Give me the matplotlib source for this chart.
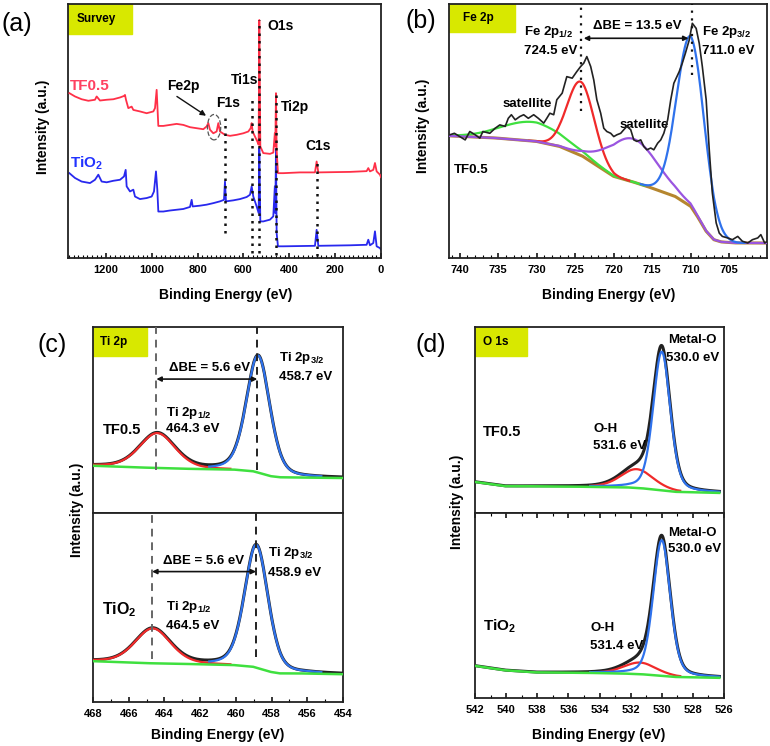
import numpy as np
import matplotlib.pyplot as plt
from matplotlib.patches import Ellipse, Rectangle
from matplotlib.ticker import MultipleLocator

plt.rcParams['font.family'] = ['Liberation Sans', 'DejaVu Sans']
plt.rcParams['font.weight'] = 'bold'
plt.rcParams['mathtext.fontset'] = 'custom'
plt.rcParams['mathtext.rm'] = 'Liberation Sans:bold'
plt.rcParams['mathtext.bf'] = 'Liberation Sans:bold'
plt.rcParams['mathtext.default'] = 'bf'

# ---------------- (a) survey spectra (binding energy eV, intensity a.u.)
sv_tf_e = [1359, 1334.5, 1305.4, 1276.3, 1247.3, 1240.0, 1225.5, 1196.4, 1167.3, 1138.3, 1120.8, 1116.5,
           1112.1, 1102.0, 1087.4, 1080.1, 1051.1, 1022.0, 992.9, 985.6, 978.4, 971.1, 949.3, 920.2,
           891.2, 862.1, 833.0, 803.9, 774.9, 760.3, 753.1, 745.8, 731.3, 716.8, 709.5, 702.2, 680.4,
           658.6, 629.5, 600.5, 578.7, 568.5, 564.1, 559.8, 549.6, 539.5, 533.6, 530.7, 526.3, 513.3,
           484.2, 469.7, 463.0, 461.0, 458.0, 455.1, 449.3, 426.1, 353.4, 288.0, 280.7, 273.4, 208.0,
           135.4, 62.7, 55.4, 48.1, 33.6, 26.3, 19.0, 4.5, 0]
sv_tf_i = [64.9, 63.6, 62.5, 61.9, 62.3, 63.6, 62.0, 62.3, 62.5, 63.2, 63.8, 64.2,
           62.3, 59.0, 59.6, 58.3, 57.7, 57.0, 57.7, 59.0, 66.2, 52.0, 52.0, 52.4,
           52.8, 52.4, 51.5, 51.1, 50.7, 51.8, 53.1, 50.5, 49.1, 49.8, 53.1, 49.8, 48.5,
           48.1, 48.5, 49.1, 49.8, 51.1, 53.1, 49.8, 47.8, 45.9, 44.6, 93.7, 43.9, 41.3,
           41.0, 41.5, 49.1, 43.9, 64.9, 42.6, 33.4, 33.4, 33.7, 33.7, 38.0, 33.7, 33.8,
           33.9, 34.2, 35.4, 34.1, 34.7, 37.4, 34.1, 32.8, 31.8]
sv_ti_e = [1359, 1334.5, 1305.4, 1269.1, 1247.3, 1232.7, 1218.2, 1196.4, 1167.3, 1138.3, 1120.8, 1113.5,
           1109.2, 1094.6, 1080.1, 1072.8, 1051.1, 1022.0, 1000.2, 990.0, 981.3, 975.5, 971.1, 949.3,
           920.2, 891.2, 862.1, 833.0, 825.7, 821.4, 789.4, 760.3, 731.3, 702.2, 684.8, 680.4, 676.1,
           644.1, 615.0, 585.9, 571.4, 564.1, 556.9, 542.3, 533.6, 530.7, 526.3, 513.3, 484.2, 469.7,
           463.0, 461.0, 458.0, 455.1, 449.3, 426.1, 288.0, 280.7, 273.4, 135.4, 62.7, 55.4, 48.1,
           33.6, 26.3, 19.0, 4.5, 0]
sv_ti_i = [33.4, 31.5, 30.1, 29.5, 30.8, 32.8, 30.1, 29.8, 30.4, 30.8, 32.1, 34.7,
           28.2, 26.2, 26.9, 24.2, 23.2, 23.6, 24.2, 26.2, 34.1, 26.9, 18.3, 18.3,
           18.7, 19.0, 19.3, 20.1, 22.9, 20.3, 20.6, 21.0, 21.6, 22.3, 22.9, 30.1, 22.3,
           22.7, 23.2, 24.0, 24.9, 28.2, 24.2, 20.3, 17.7, 43.3, 14.4, 14.4, 15.1, 16.4,
           28.2, 17.7, 42.6, 9.8, 4.6, 4.6, 4.8, 11.1, 4.8, 5.0, 5.2, 7.2, 5.0,
           5.9, 10.5, 4.6, 3.9, 3.3]
sv_line_e = [682, 564, 530, 456, 278]
sv_line_top = [56.4, 63.6, 93.7, 65.5, 37.4]
sv_line_bot = [9.8, 2.0, 2.0, 1.3, 0.7]

# ---------------- (b) Fe 2p, TF0.5
fe_e = [741.3, 740.7, 740.0, 739.3, 738.7, 738.0, 737.4, 737.0, 736.1, 735.4, 734.8, 734.1, 733.7, 733.3,
        732.8, 732.2, 731.7, 731.1, 730.4, 729.8, 729.1, 728.7, 728.3, 727.8, 727.4, 726.7, 726.1, 725.4,
        724.8, 724.3, 723.9, 723.5, 723.0, 722.6, 722.2, 721.7, 721.3, 720.9, 720.4, 720.0, 719.6, 719.1,
        718.7, 718.3, 717.8, 717.4, 717.0, 716.5, 716.1, 715.7, 715.2, 714.8, 714.3, 713.9, 713.5, 713.0,
        712.6, 712.2, 711.5, 711.1, 710.7, 710.2, 709.8, 709.3, 708.9, 708.5, 708.0, 707.6, 707.2, 706.7,
        706.3, 705.9, 705.2, 704.6, 703.9, 703.3, 702.6, 702.0, 701.3, 700.9, 700.4, 700.0]
fe_i = [48.5, 49.1, 47.8, 46.5, 49.8, 48.5, 47.2, 49.8, 49.1, 51.1, 52.4, 51.8, 55.0, 56.4,
        54.4, 55.7, 56.4, 55.0, 56.4, 55.0, 53.1, 55.0, 57.0, 56.4, 62.3, 64.9, 71.4, 70.8,
        73.4, 75.4, 76.7, 79.3, 75.4, 70.1, 62.3, 57.0, 51.1, 49.8, 49.1, 47.8, 48.5, 49.1,
        50.5, 51.8, 50.5, 46.5, 45.9, 46.5, 43.9, 42.6, 43.3, 42.6, 45.2, 46.5, 49.1, 54.4,
        62.3, 68.8, 73.4, 76.7, 80.6, 85.8, 92.4, 90.4, 84.5, 75.4, 62.3, 42.6, 25.6, 13.8,
        9.8, 8.5, 7.9, 7.2, 8.5, 6.6, 5.9, 7.2, 7.9, 9.2, 5.9, 6.6]
fe_bg_e = [741.4, 735.0, 730.0, 727.0, 725.0, 724.0, 722.0, 720.0, 718.5, 717.0, 715.0, 712.0,
           710.0, 709.0, 708.0, 707.0, 706.0, 704.0, 700.0]
fe_bg_i = [48.1, 47.2, 45.9, 43.9, 41.3, 40.0, 36.0, 32.1, 30.8, 29.5, 27.5, 24.2,
           20.3, 15.7, 10.5, 7.2, 6.3, 5.9, 5.9]
# components: green satellite, red 2p1/2, purple satellite, blue 2p3/2
fe_cen = [730.6, 724.3, 717.5, 710.0]
fe_amp = [7.5, 29.0, 17.0, 67.0]
fe_sig = [4.0, 1.75, 3.2, 1.8]
fe_lo = [716.0, 718.0, 700.0, 703.0]
fe_hi = [741.4, 731.0, 741.4, 716.5]

# ---------------- (c) Ti 2p  [TF0.5, TiO2]
ti_bg_e = [468, 464.5, 462, 460, 459, 458.5, 458, 457.5, 456, 454]
ti_bg_tf = [25.4, 24.2, 23.6, 23.3, 22.4, 21.0, 19.7, 19.2, 19.0, 18.8]
ti_bg_ti = [21.6, 20.4, 20.0, 19.5, 18.6, 17.2, 15.8, 15.1, 15.1, 14.7]
ti_cen_tf = [464.4, 458.75]
ti_cen_ti = [464.65, 458.85]
ti_amp_tf = [18.8, 63.0]
ti_amp_ti = [18.5, 65.0]
ti_sig = [1.0, 0.66]

# ---------------- (d) O 1s  [TF0.5, TiO2]
o_bg_e = [542, 540, 538, 534, 532, 531, 530, 529, 526.3]
o_bg_tf = [16.7, 14.4, 14.4, 14.0, 13.7, 13.1, 12.2, 11.3, 10.8]
o_bg_ti = [17.4, 14.9, 13.8, 13.5, 13.1, 12.7, 12.0, 11.3, 10.9]
o_cen_tf = [531.6, 530.0]
o_cen_ti = [531.4, 530.0]
o_amp_tf = [10.1, 74.5]
o_amp_ti = [6.3, 73.3]
o_sig = [1.05, 0.55]

RED, BLUE, GREEN = '#f02a2a', '#2f72ec', '#3fe03f'
PURPLE, BROWN = '#9a55e0', '#b5862f'
BOX = '#d8e800'


def peak(x, c, a, s, eta=0.0):
    g = np.exp(-0.5 * ((x - c) / s) ** 2)
    hw = 1.1774 * s
    l = 1.0 / (1.0 + ((x - c) / hw) ** 2)
    return a * ((1 - eta) * g + eta * l)


def style(ax, xlim, major, minor, labels=True, bottom=True, top=False):
    ax.set_xlim(*xlim)
    ax.set_ylim(0, 100)
    ax.set_yticks([])
    ax.xaxis.set_major_locator(MultipleLocator(major))
    ax.xaxis.set_minor_locator(MultipleLocator(minor))
    ax.tick_params(axis='x', which='both', direction='in', labelsize=8, pad=5,
                   bottom=bottom, top=top, labelbottom=labels)
    ax.tick_params(axis='x', which='major', length=3.5, width=1.1)
    ax.tick_params(axis='x', which='minor', length=2, width=0.8)
    for s in ax.spines.values():
        s.set_linewidth(1.3)
        s.set_color('#222222')


def tag(ax, text, w, h, tx):
    ax.add_patch(Rectangle((0, 1 - h), w, h, transform=ax.transAxes, color=BOX, zorder=1))
    ax.text(tx, 1 - h / 2, text, transform=ax.transAxes, fontsize=8.5, va='center', ha='left', zorder=6)


def fit_panel(ax, bg_e, bg_i, cen, amp, sig, eta, lo, hi, comp_lo, comp_hi):
    x = np.linspace(lo, hi, 900)
    bg = np.interp(x, bg_e[::-1], bg_i[::-1])
    comps = [peak(x, c, a, s, eta) for c, a, s in zip(cen, amp, sig)]
    ax.plot(x, bg + comps[0] + comps[1], color='#222222', lw=2.2, zorder=2)
    for comp, col, a, b in zip(comps, [RED, BLUE], comp_lo, comp_hi):
        m = (x >= a) & (x <= b)
        ax.plot(x[m], (bg + comp)[m], color=col, lw=1.6, zorder=3)
    ax.plot(x, bg, color=GREEN, lw=1.8, zorder=4)


fig = plt.figure(figsize=(7.7, 7.46), dpi=100)
W, H = 770, 746


def box(x0, y0, x1, y1):
    return [x0 / W, 1 - y1 / H, (x1 - x0) / W, (y1 - y0) / H]


ax_a = fig.add_axes(box(68, 4, 381, 258))
ax_b = fig.add_axes(box(449, 4, 767, 258))
ax_c1 = fig.add_axes(box(93, 327, 343, 513))
ax_c2 = fig.add_axes(box(93, 513, 343, 702))
ax_d1 = fig.add_axes(box(475, 327, 724, 513))
ax_d2 = fig.add_axes(box(475, 513, 724, 698))

# ---- (a)
ax_a.plot(sv_tf_e, sv_tf_i, color='#ff3048', lw=1.3, zorder=3)
ax_a.plot(sv_ti_e, sv_ti_i, color='#2828ee', lw=1.3, zorder=2)
for e, t, b in zip(sv_line_e, sv_line_top, sv_line_bot):
    ax_a.plot([e, e], [b, t], color='#111111', ls=(0, (1, 2)), lw=1.8, zorder=4)
ax_a.add_patch(Ellipse((728, 51.5), 58, 10.0, fill=False, ec='#555555', ls='--', lw=0.9, zorder=5))
ax_a.annotate('', xy=(763, 56.0), xytext=(890, 63.6),
              arrowprops=dict(arrowstyle='-|>', color='#111111', lw=1.0, mutation_scale=8,
                              shrinkA=0, shrinkB=0))
ax_a.text(1356, 67.8, 'TF0.5', color='#ff4060', fontsize=11, va='center', ha='left')
ax_a.text(1356, 37.4, 'TiO$_2$', color='#2233ff', fontsize=11, va='center', ha='left')
ax_a.text(862, 67.8, 'Fe2p', fontsize=10, ha='center', va='center')
ax_a.text(666, 60.9, 'F1s', fontsize=10, ha='center', va='center')
ax_a.text(593, 70.1, 'Ti1s', fontsize=10, ha='center', va='center')
ax_a.text(436, 91.3, 'O1s', fontsize=10, ha='center', va='center')
ax_a.text(374, 59.6, 'Ti2p', fontsize=10, ha='center', va='center')
ax_a.text(273, 43.9, 'C1s', fontsize=10, ha='center', va='center')
style(ax_a, (1365, 0), 200, 20)
tag(ax_a, 'Survey', 0.205, 0.12, 0.026)

# ---- (b)
xb = np.linspace(700.0, 741.4, 900)
bgb = np.interp(xb, fe_bg_e[::-1], fe_bg_i[::-1])
ax_b.plot(xb, bgb, color=BROWN, lw=2.2, zorder=2)
for c, a, s, lo, hi, col in zip(fe_cen, fe_amp, fe_sig, fe_lo, fe_hi, [GREEN, RED, PURPLE, BLUE]):
    m = (xb >= lo) & (xb <= hi)
    ax_b.plot(xb[m], (bgb + peak(xb, c, a, s))[m], color=col, lw=1.6, zorder=3)
ax_b.plot(fe_e, fe_i, color='#222222', lw=1.2, zorder=4)
ax_b.plot([724.2, 724.2], [57.7, 100], color='#111111', ls=(0, (1, 2.5)), lw=1.6, zorder=5)
ax_b.plot([709.9, 709.9], [72.0, 100], color='#111111', ls=(0, (1, 2.5)), lw=1.6, zorder=5)
ax_b.annotate('', xy=(710.3, 86.5), xytext=(723.9, 86.5),
              arrowprops=dict(arrowstyle='<|-|>', color='#111111', lw=1.2, mutation_scale=7,
                              shrinkA=0, shrinkB=0))
ax_b.text(717.0, 91.2, '\u0394BE = 13.5 eV', fontsize=9.5, ha='center', va='center')
ax_b.text(731.7, 89.0, 'Fe 2p$_{1/2}$', fontsize=9.5, ha='left', va='center')
ax_b.text(731.7, 81.6, '724.5 eV', fontsize=9.5, ha='left', va='center')
ax_b.text(708.6, 89.0, 'Fe 2p$_{3/2}$', fontsize=9.5, ha='left', va='center')
ax_b.text(708.6, 81.6, '711.0 eV', fontsize=9.5, ha='left', va='center')
ax_b.text(731.3, 60.7, 'satellite', fontsize=9.5, ha='center', va='center')
ax_b.text(716.1, 52.4, 'satellite', fontsize=9.5, ha='center', va='center')
ax_b.text(740.8, 34.7, 'TF0.5', fontsize=9.5, ha='left', va='center')
style(ax_b, (741.4, 700.1), 5, 1)
tag(ax_b, 'Fe 2p', 0.207, 0.11, 0.044)

# ---- (c)
fit_panel(ax_c1, ti_bg_e, ti_bg_tf, ti_cen_tf, ti_amp_tf, ti_sig, 0.3, 454, 468, [460.3, 455.2], [468, 461.5])
fit_panel(ax_c2, ti_bg_e, ti_bg_ti, ti_cen_ti, ti_amp_ti, ti_sig, 0.3, 454, 468, [460.3, 455.2], [468, 461.5])
style(ax_c1, (468, 454), 2, 1, labels=False, bottom=False)
style(ax_c2, (468, 454), 2, 1)
ax_c1.plot([464.45, 464.45], [23, 100], color='#666666', ls=(0, (4, 3)), lw=1.4, zorder=5)
ax_c1.plot([458.8, 458.8], [23, 100], color='#222222', ls=(0, (4, 3)), lw=1.4, zorder=5)
ax_c2.plot([464.69, 464.69], [23, 100], color='#666666', ls=(0, (4, 3)), lw=1.4, zorder=5)
ax_c2.plot([458.87, 458.87], [23.9, 100], color='#222222', ls=(0, (4, 3)), lw=1.4, zorder=5)
for ax, y, x1, x2 in [(ax_c1, 72.0, 464.45, 458.8), (ax_c2, 69.0, 464.69, 458.87)]:
    ax.annotate('', xy=(x2, y), xytext=(x1, y),
                arrowprops=dict(arrowstyle='<|-|>', color='#111111', lw=1.2, mutation_scale=7,
                                shrinkA=0, shrinkB=0))
ax_c1.text(461.5, 78.0, '\u0394BE = 5.6 eV', fontsize=9.5, ha='center', va='center')
ax_c1.text(457.6, 83.3, 'Ti 2p$_{3/2}$', fontsize=9.5, ha='left', va='center')
ax_c1.text(457.6, 73.1, '458.7 eV', fontsize=9.5, ha='left', va='center')
ax_c1.text(463.9, 53.8, 'Ti 2p$_{1/2}$', fontsize=9.5, ha='left', va='center')
ax_c1.text(463.9, 45.2, '464.3 eV', fontsize=9.5, ha='left', va='center')
ax_c1.text(466.4, 44.8, 'TF0.5', fontsize=10.5, ha='center', va='center')
ax_c2.text(461.8, 74.7, '\u0394BE = 5.6 eV', fontsize=9.5, ha='center', va='center')
ax_c2.text(458.2, 78.8, 'Ti 2p$_{3/2}$', fontsize=9.5, ha='left', va='center')
ax_c2.text(458.2, 68.2, '458.9 eV', fontsize=9.5, ha='left', va='center')
ax_c2.text(463.9, 50.4, 'Ti 2p$_{1/2}$', fontsize=9.5, ha='left', va='center')
ax_c2.text(463.9, 40.3, '464.5 eV', fontsize=9.5, ha='left', va='center')
ax_c2.text(467.5, 48.7, 'TiO$_2$', fontsize=11.5, ha='left', va='center')
tag(ax_c1, 'Ti 2p', 0.216, 0.156, 0.028)

# ---- (d)
fit_panel(ax_d1, o_bg_e, o_bg_tf, o_cen_tf, o_amp_tf, o_sig, 0.3, 526.3, 542, [528.8, 526.3], [534.6, 534.6])
fit_panel(ax_d2, o_bg_e, o_bg_ti, o_cen_ti, o_amp_ti, o_sig, 0.3, 526.3, 542, [528.8, 526.3], [534.6, 534.6])
style(ax_d1, (542, 526), 2, 1, labels=False, bottom=False)
style(ax_d2, (542, 526), 2, 1, top=True)
ax_d1.text(529.6, 93.0, 'Metal-O', fontsize=9.5, ha='left', va='center')
ax_d1.text(529.7, 83.1, '530.0 eV', fontsize=9.5, ha='left', va='center')
ax_d1.text(534.4, 44.9, 'O-H', fontsize=9.5, ha='left', va='center')
ax_d1.text(534.4, 35.9, '531.6 eV', fontsize=9.5, ha='left', va='center')
ax_d1.text(541.5, 43.6, 'TF0.5', fontsize=10.5, ha='left', va='center')
ax_d2.text(529.6, 89.2, 'Metal-O', fontsize=9.5, ha='left', va='center')
ax_d2.text(529.6, 80.3, '530.0 eV', fontsize=9.5, ha='left', va='center')
ax_d2.text(534.6, 37.7, 'O-H', fontsize=9.5, ha='left', va='center')
ax_d2.text(534.6, 28.3, '531.4 eV', fontsize=9.5, ha='left', va='center')
ax_d2.text(541.5, 38.6, 'TiO$_2$', fontsize=11, ha='left', va='center')
tag(ax_d1, 'O 1s', 0.209, 0.156, 0.032)

# ---- axis labels and panel letters
for x, y in [(0.056, 0.830), (0.549, 0.832), (0.100, 0.316), (0.594, 0.327)]:
    fig.text(x, y, 'Intensity (a.u.)', rotation=90, fontsize=10, ha='center', va='center')
for x, y in [(0.293, 0.605), (0.790, 0.605), (0.283, 0.0147), (0.778, 0.0147)]:
    fig.text(x, y, 'Binding Energy (eV)', fontsize=10, ha='center', va='center')
for s, x, y in [('(a)', 0.022, 0.968), ('(b)', 0.547, 0.972), ('(c)', 0.068, 0.5375), ('(d)', 0.560, 0.5375)]:
    fig.text(x, y, s, fontsize=18, fontweight='normal', ha='center', va='center')

fig.savefig('out.png', dpi=100)
